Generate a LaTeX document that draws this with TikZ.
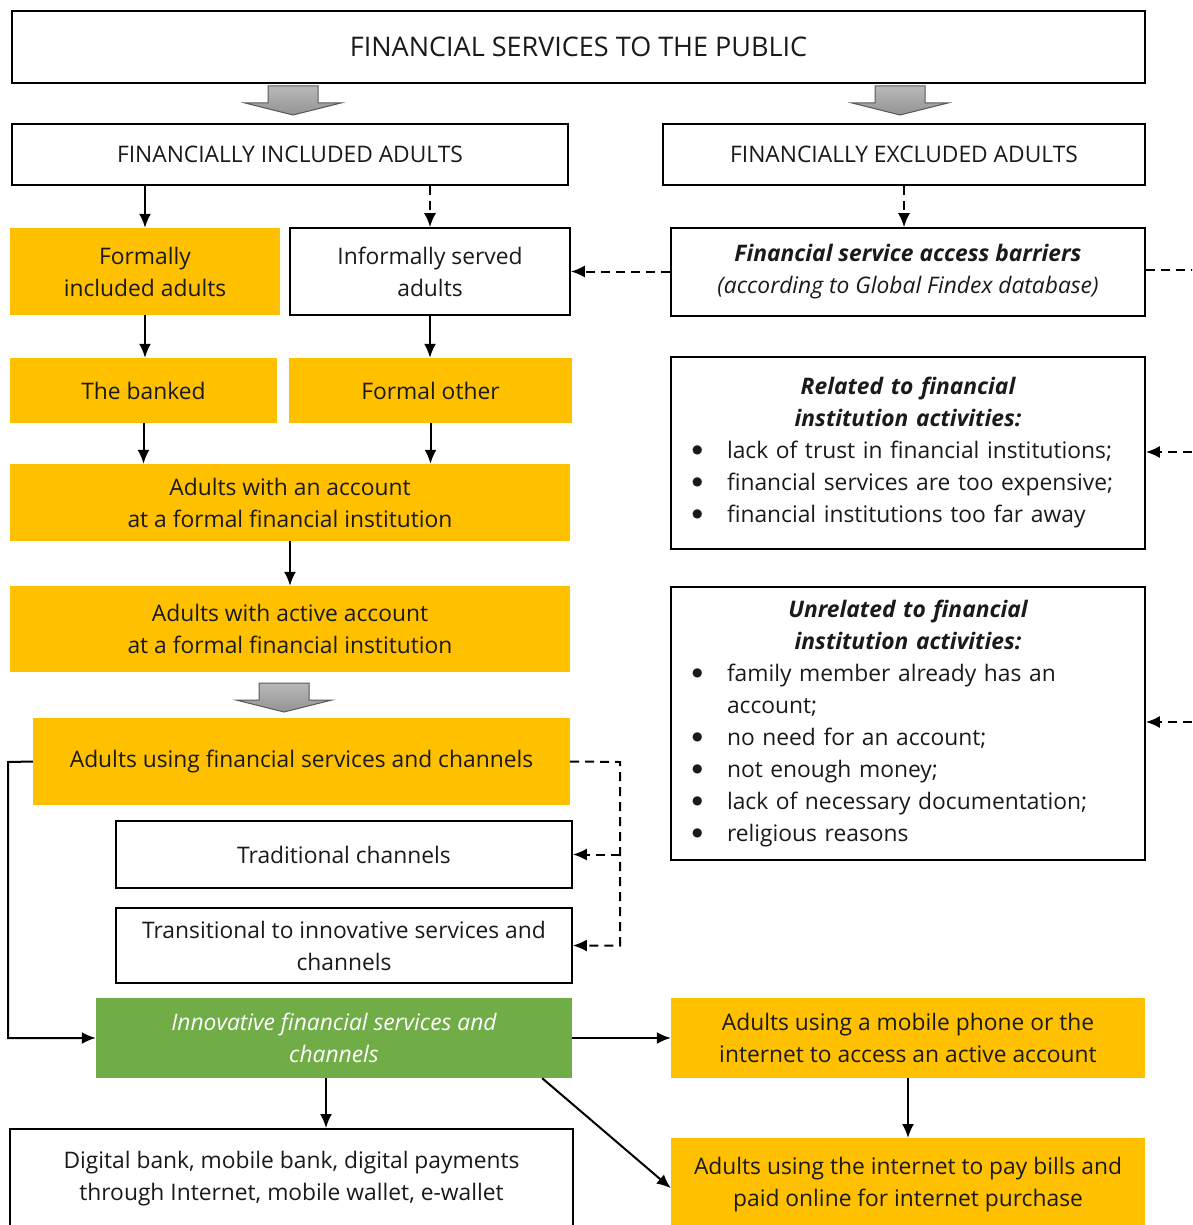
\documentclass[tikz,border=0pt]{standalone}
\usepackage{fontspec}
\setmainfont{Open Sans}
\newfontfamily\dotfont{DejaVu Sans}
\usetikzlibrary{arrows.meta}

\definecolor{gold}{HTML}{FFC000}
\definecolor{leaf}{HTML}{70AD47}
\definecolor{ink}{HTML}{1A1A1A}
\newcommand{\bul}{\par\hangindent=32pt\hangafter=1\noindent\makebox[32pt][l]{\hspace{-3pt}\raisebox{5pt}{\dotfont\fontsize{12}{12}\selectfont ●}}}

\begin{document}
\begin{tikzpicture}[x=1pt, y=-1pt,
    every node/.style={font=\fontsize{22.8}{32}\selectfont, text=ink, inner sep=0pt, align=center},
    wbox/.style={draw, line width=1.6pt, fill=white},
    ybox/.style={fill=gold},
    gbox/.style={fill=leaf, text=white, font=\fontsize{22.8}{32}\selectfont\itshape},
    sline/.style={line width=2pt, -{Latex[length=14pt,width=12pt]}},
    dline/.style={sline, dash pattern=on 9pt off 6pt},
    bigarrow/.style={draw=gray!70!black, line width=1pt, top color=gray!55, bottom color=gray!85}]
    \useasboundingbox (0,0) rectangle (1192,1225);
    \clip (0,0) rectangle (1192,1225);

    \node[wbox, minimum width=1133pt, minimum height=72pt, font=\fontsize{27}{32}\selectfont] (pub) at (578.5,47) {FINANCIAL SERVICES TO THE PUBLIC};
    \node[wbox, minimum width=556pt, minimum height=61pt] (incl) at (290,154.5) {FINANCIALLY INCLUDED ADULTS};
    \node[wbox, minimum width=482pt, minimum height=61pt] (excl) at (904,154.5) {FINANCIALLY EXCLUDED ADULTS};

    \node[ybox, minimum width=270pt, minimum height=87pt] (formal) at (145,271.5) {Formally\\included adults};
    \node[wbox, minimum width=280pt, minimum height=87pt] (informal) at (430,271.5) {Informally served\\adults};
    \node[wbox, minimum width=474pt, minimum height=88pt] (barrier) at (908,272)
        {{\bfseries\itshape Financial service access barriers}\\{\itshape (according to Global Findex database)}};

    \node[ybox, minimum width=267pt, minimum height=65pt] (banked) at (143.5,390.5) {The banked};
    \node[ybox, minimum width=283pt, minimum height=65pt] (fother) at (430.5,390.5) {Formal other};

    \node[wbox, minimum width=474pt, minimum height=192pt, text width=426pt, align=left] (related) at (908,453)
        {{\centering\bfseries\itshape Related to financial\\institution activities:\par}
         \bul lack of trust in financial institutions;
         \bul financial services are too expensive;
         \bul financial institutions too far away};

    \node[ybox, minimum width=560pt, minimum height=77pt] (account) at (290,502.5) {Adults with an account\\at a formal financial institution};
    \node[ybox, minimum width=560pt, minimum height=86pt] (active) at (290,629) {Adults with active account\\at a formal financial institution};

    \node[wbox, minimum width=474pt, minimum height=273pt, text width=426pt, align=left] (unrel) at (908,723.5)
        {{\centering\bfseries\itshape Unrelated to financial\\institution activities:\par}
         \bul family member already has an\newline account;
         \bul no need for an account;
         \bul not enough money;
         \bul lack of necessary documentation;
         \bul religious reasons};

    \node[ybox, minimum width=537pt, minimum height=87pt] (using) at (301.5,761.5) {Adults using financial services and channels};
    \node[wbox, minimum width=456pt, minimum height=67pt] (trad) at (344,854.5) {Traditional channels};
    \node[wbox, minimum width=456pt, minimum height=75pt] (trans) at (344,945.5) {Transitional to innovative services and\\channels};
    \node[gbox, minimum width=476pt, minimum height=80pt] (innov) at (334,1038) {Innovative financial services and\\channels};
    \node[ybox, minimum width=474pt, minimum height=80pt] (mobile) at (908,1038) {Adults using a mobile phone or the\\internet to access an active account};
    \node[wbox, minimum width=563pt, minimum height=132pt, anchor=north] (digital) at (291.5,1128) {};
    \node (digitaltext) at (291.5,1179) {Digital bank, mobile bank, digital payments\\through Internet, mobile wallet, e-wallet};
    \node[ybox, minimum width=474pt, minimum height=92pt, anchor=north] (internet) at (908,1138)
        {Adults using the internet to pay bills and\\paid online for internet purchase};

    % grey block arrows
    \foreach \x/\y in {293/86, 900/86, 284/683}
        \draw[bigarrow, shift={(\x,\y)}] (-25,0) -- (25,0) -- (25,17) -- (48,17) -- (0,29) -- (-48,17) -- (-25,17) -- cycle;

    % rails and off-page ends
    \coordinate (rail) at (620,762);
    \coordinate (lrail) at (8,762);
    \coordinate (off1) at (1200,270);
    \coordinate (off2) at (1192,452);
    \coordinate (off3) at (1192,722);

    \draw[sline] (incl.south -| formal) -- (formal);
    \draw[dline] (incl.south -| informal) -- (informal);
    \draw[dline] (excl.south) -- (excl.south |- barrier.north);
    \draw[dline] (barrier.west |- informal.east) -- (informal.east);
    \draw[dline, -] (barrier.east |- off1) -- (off1);
    \draw[dline] (off2) -- (off2 -| related.east);
    \draw[dline] (off3) -- (off3 -| unrel.east);

    \draw[sline] (formal) -- (formal.south |- banked.north);
    \draw[sline] (informal) -- (informal.south |- fother.north);
    \draw[sline] (banked) -- (banked.south |- account.north);
    \draw[sline] (fother) -- (fother.south |- account.north);
    \draw[sline] (account) -- (active);

    \draw[dline] (using.east) -- (rail) |- (trans.east);
    \draw[dline] (trad.east -| rail) -- (trad.east);
    \draw[sline] (using.west) -- (lrail) |- (innov.west);

    \draw[sline] (innov.east) -- (mobile.west);
    \draw[sline] ([xshift=-8pt]innov.south) -- ([xshift=-8pt]innov.south |- digital.north);
    \draw[sline] ([xshift=-30pt]innov.south east) -- ([yshift=-4pt]internet.west);
    \draw[sline] (mobile) -- (mobile.south |- internet.north);
\end{tikzpicture}
\end{document}
